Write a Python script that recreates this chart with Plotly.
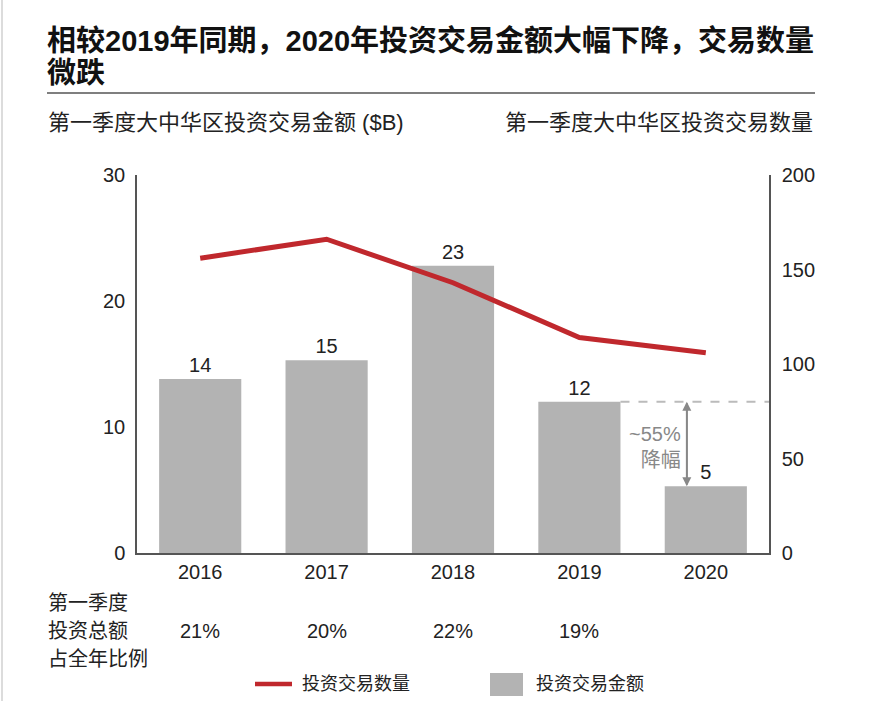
import plotly.graph_objects as go

# data
years = ["2016", "2017", "2018", "2019", "2020"]
deal_value = [13.8, 15.3, 22.8, 12.0, 5.3]       # $B, left axis
deal_count = [156, 166, 143, 114, 106]           # right axis
q1_share = ["21%", "20%", "22%", "19%", ""]
value_ticks = [0, 10, 20, 30]
count_ticks = [0, 50, 100, 150, 200]

RED = "#c0282d"
BAR = "#b3b3b3"
TXT = "#222222"
FONT = "Liberation Sans, Arial, Noto Sans CJK SC, sans-serif"

W, H = 887, 701
L, R, T, B = 137, 769, 175, 553   # plot area in pixels


def px(x):
    return (x - L) / (R - L)


def py(y):
    return (B - y) / (B - T)


fig = go.Figure()

fig.add_trace(go.Bar(
    x=years, y=deal_value, width=0.65,
    marker=dict(color=BAR, line=dict(width=0)),
    text=[f"{v:.0f}" for v in deal_value], textposition="outside",
    textfont=dict(size=20, color=TXT), cliponaxis=False,
    name="投资交易金额", showlegend=False,
))

fig.add_trace(go.Scatter(
    x=years, y=deal_count, yaxis="y2", mode="lines",
    line=dict(color=RED, width=5),
    name="投资交易数量", showlegend=False,
))

fig.update_layout(
    width=W, height=H,
    margin=dict(l=L, r=W - R, t=T, b=H - B),
    paper_bgcolor="white", plot_bgcolor="white",
    font=dict(family=FONT, size=20, color=TXT),
    xaxis=dict(
        type="category", range=[-0.5, 4.5], showgrid=False,
        showline=True, linecolor="#555555", linewidth=1.5,
        ticks="", tickfont=dict(size=20, color=TXT), ticklabelstandoff=0,
    ),
    yaxis=dict(
        range=[0, 30], tickvals=value_ticks, showgrid=False, zeroline=False,
        showline=True, linecolor="#555555", linewidth=1.5,
        ticks="", tickfont=dict(size=20, color=TXT), ticklabelstandoff=6,
    ),
    yaxis2=dict(
        range=[0, 200], tickvals=count_ticks, overlaying="y", side="right",
        showgrid=False, zeroline=False,
        showline=True, linecolor="#555555", linewidth=1.5,
        ticks="", tickfont=dict(size=20, color=TXT), ticklabelstandoff=7,
    ),
)

shapes = [
    # faint page border on the left
    dict(type="line", xref="paper", yref="paper", x0=px(2), x1=px(2),
         y0=py(0), y1=py(H), line=dict(color="#d0d0d0", width=1.5)),
    # rule under the title
    dict(type="line", xref="paper", yref="paper", x0=px(47), x1=px(815),
         y0=py(93), y1=py(93), line=dict(color="#555555", width=1.5)),
    # dashed reference at the 2019 level
    dict(type="line", xref="x", yref="y", x0=3.325, x1=4.5,
         y0=deal_value[3], y1=deal_value[3],
         line=dict(color="#bbbbbb", width=2, dash="dash")),
    # legend swatches
    dict(type="line", xref="paper", yref="paper", x0=px(255), x1=px(292),
         y0=py(684), y1=py(684), line=dict(color=RED, width=4.5)),
    dict(type="rect", xref="paper", yref="paper", x0=px(490), x1=px(523),
         y0=py(673), y1=py(696), fillcolor=BAR, line=dict(width=0)),
]

ann = [
    dict(text="<b>相较2019年同期，2020年投资交易金额大幅下降，交易数量</b>",
         x=px(45), y=py(41), xanchor="left", yanchor="middle",
         font=dict(size=29, color="#111111")),
    dict(text="<b>微跌</b>", x=px(45), y=py(73), xanchor="left", yanchor="middle",
         font=dict(size=29, color="#111111")),
    dict(text="第一季度大中华区投资交易金额 ($B)", x=px(46), y=py(123),
         xanchor="left", yanchor="middle", font=dict(size=22)),
    dict(text="第一季度大中华区投资交易数量", x=px(815), y=py(123),
         xanchor="right", yanchor="middle", font=dict(size=22)),
    dict(text="第一季度", x=px(46), y=py(603), xanchor="left", yanchor="middle"),
    dict(text="投资总额", x=px(46), y=py(631), xanchor="left", yanchor="middle"),
    dict(text="占全年比例", x=px(46), y=py(659), xanchor="left", yanchor="middle"),
    dict(text="投资交易数量", x=px(300), y=py(684), xanchor="left", yanchor="middle",
         font=dict(size=18)),
    dict(text="投资交易金额", x=px(534), y=py(684), xanchor="left", yanchor="middle",
         font=dict(size=18)),
]
for a in ann:
    a.update(xref="paper", yref="paper", showarrow=False)

# ~55% decline note
ann.append(dict(text="~55%<br>降幅", xref="x", yref="y", x=3.82, y=8.4,
                xanchor="right", yanchor="middle", align="right",
                showarrow=False, font=dict(size=20, color="#888888")))

# share of full-year investment per year
for i, s in enumerate(q1_share):
    if s:
        ann.append(dict(text=s, xref="x", yref="paper", x=i, y=py(631),
                        yanchor="middle", showarrow=False))

# double-headed arrow between 2019 and 2020 levels
for y_tip, y_tail in [(deal_value[3], deal_value[4]), (deal_value[4], deal_value[3])]:
    ann.append(dict(x=3.85, y=y_tip, ax=3.85, ay=y_tail, xref="x", yref="y",
                    axref="x", ayref="y", text="", showarrow=True,
                    arrowhead=2, arrowsize=1, arrowwidth=1.8,
                    arrowcolor="#888888"))

fig.update_layout(shapes=shapes, annotations=ann)

fig.write_html("out.html", config={"displayModeBar": False},
               post_script="document.body.style.margin='0';")
